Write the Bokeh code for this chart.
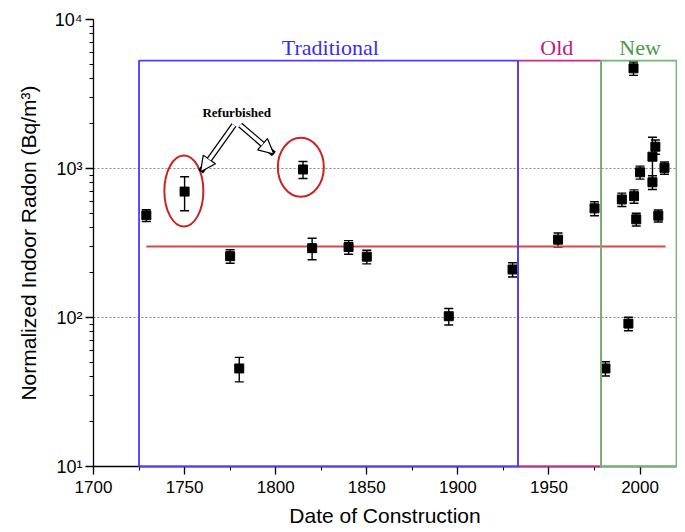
from bokeh.plotting import figure
from bokeh.models import (ColumnDataSource, Whisker, TeeHead, Arrow, NormalHead,
                          Label, FixedTicker, SingleIntervalTicker)
from bokeh.embed import file_html
from bokeh.resources import INLINE

# ---- data ----
year = [1729, 1750, 1775, 1780, 1815, 1820, 1840, 1850, 1895, 1930,
        1955, 1975, 1981, 1990, 1993.6, 1996.4, 1996.7, 1997.9, 2000,
        2006.8, 2008.4, 2006.8, 2010, 2013.4]
radon = [485, 700, 258, 45.5, 985, 292, 297, 256, 102, 210,
         333, 540, 45.5, 620, 91, 4700, 652, 456, 943,
         1200, 1400, 808, 482, 1010]
radon_err = [45, 180, 27, 8.5, 128, 48, 31, 27, 13, 23,
             36, 58, 5, 64, 9.5, 480, 67, 45, 95,
             420, 153, 85, 45, 95]

# periods: name, start, end
period_names = ["Traditional", "Old", "New"]
period_start = [1725, 1933, 1978.5]
period_end = [1933, 1978.5, 2020]
period_top = 5300
period_label_x = [1830, 1954.3, 2000]
period_label_y = 6500

ref_level = 300
ref_start, ref_end = 1729, 2014

refurb_year = [1749.6, 1813.8]
refurb_val = [706, 1020]

x_ticks_major = 50
y_tick_labels = {10: "10\u00b9", 100: "10\u00b2", 1000: "10\u00b3", 10000: "10\u2074"}

# ---- figure ----
p = figure(frame_width=583, frame_height=447,
           x_range=(1700, 2020), y_range=(10, 10000), y_axis_type="log",
           output_backend="svg", toolbar_location=None,
           min_border_left=93, min_border_right=1, min_border_top=19,
           min_border_bottom=60)
p.outline_line_color = None
p.background_fill_color = "white"

p.xgrid.visible = False
p.ygrid.ticker = FixedTicker(ticks=[100, 1000])
p.ygrid.grid_line_color = "#888888"
p.ygrid.grid_line_dash = "2 2"
p.ygrid.grid_line_width = 1

p.xaxis.ticker = SingleIntervalTicker(interval=x_ticks_major, num_minor_ticks=2)
p.yaxis.major_label_overrides = y_tick_labels
for ax in (p.xaxis, p.yaxis):
    ax.axis_line_color = "black"
    ax.axis_line_width = 1.3
    ax.major_tick_line_color = "black"
    ax.minor_tick_line_color = "black"
    ax.major_tick_line_width = 1.3
    ax.minor_tick_line_width = 1.1
    ax.major_tick_in = 0
    ax.major_tick_out = 8
    ax.minor_tick_in = 0
    ax.minor_tick_out = 4
    ax.major_label_text_font = "Liberation Sans"
    ax.major_label_text_font_size = "17px"
    ax.major_label_text_color = "black"
    ax.axis_label_text_font = "Liberation Sans"
    ax.axis_label_text_font_size = "21px"
    ax.axis_label_text_font_style = "normal"
    ax.axis_label_text_color = "black"

p.yaxis.major_label_text_font_size = "18px"
p.xaxis.axis_label = "Date of Construction"
p.yaxis.axis_label = "Normalized Indoor Radon (Bq/m\u00b3)"
p.xaxis.major_label_standoff = 6
p.xaxis.axis_label_standoff = 8
p.yaxis.major_label_standoff = 3
p.yaxis.axis_label_standoff = 12

# period boxes (old first, then traditional, then new)
box_colors = ["#4b3cff", "#cc2a86", "#72b672"]
text_colors = ["#3a2cf2", "#c4177f", "#4a9a4a"]
for i in [1, 0, 2]:
    p.quad(left=period_start[i], right=period_end[i], bottom=10, top=period_top,
           fill_color=None, line_color=box_colors[i], line_width=1.8, level="overlay")
    p.add_layout(Label(x=period_label_x[i], y=period_label_y, text=period_names[i],
                       text_font="Liberation Serif", text_font_size="22px",
                       text_color=text_colors[i], text_align="center",
                       text_baseline="alphabetic"))

# reference line
p.line(x=[ref_start, ref_end], y=[ref_level, ref_level], line_color="#e04444", line_width=2)

# error bars and points
src = ColumnDataSource(dict(
    x=year, y=radon,
    lower=[v - e for v, e in zip(radon, radon_err)],
    upper=[v + e for v, e in zip(radon, radon_err)],
))
p.add_layout(Whisker(source=src, base="x", upper="upper", lower="lower",
                     line_color="black", line_width=1.4,
                     upper_head=TeeHead(size=9, line_color="black", line_width=1.4),
                     lower_head=TeeHead(size=9, line_color="black", line_width=1.4)))
p.scatter(x="x", y="y", source=src, marker="square", size=9,
          fill_color="black", line_color="black")

# refurbished ellipses
p.ellipse(x=refurb_year, y=refurb_val, width=[39, 46], height=[71, 59],
          width_units="screen", height_units="screen",
          fill_color=None, line_color="#cc2222", line_width=2)

# hollow arrows
arrow_start = [(1777.1, 1958), (1780.5, 1958)]
arrow_end = [(1758.8, 952), (1799.0, 1251)]
for (xs, ys), (xe, ye) in zip(arrow_start, arrow_end):
    p.add_layout(Arrow(end=None, x_start=xs, y_start=ys, x_end=xe, y_end=ye,
                       line_color="black", line_width=6))
for (xs, ys), (xe, ye) in zip(arrow_start, arrow_end):
    p.add_layout(Arrow(end=NormalHead(size=15, fill_color="white", line_color="black",
                                      line_width=1.2),
                       x_start=xs, y_start=ys, x_end=xe, y_end=ye,
                       line_color="white", line_width=3.5))

p.add_layout(Label(x=1778.6, y=2367, text="Refurbished", text_font="Liberation Serif",
                   text_font_size="13px", text_font_style="bold", text_color="black",
                   text_align="center", text_baseline="middle"))

open("out.html", "w").write(file_html(p, INLINE))
